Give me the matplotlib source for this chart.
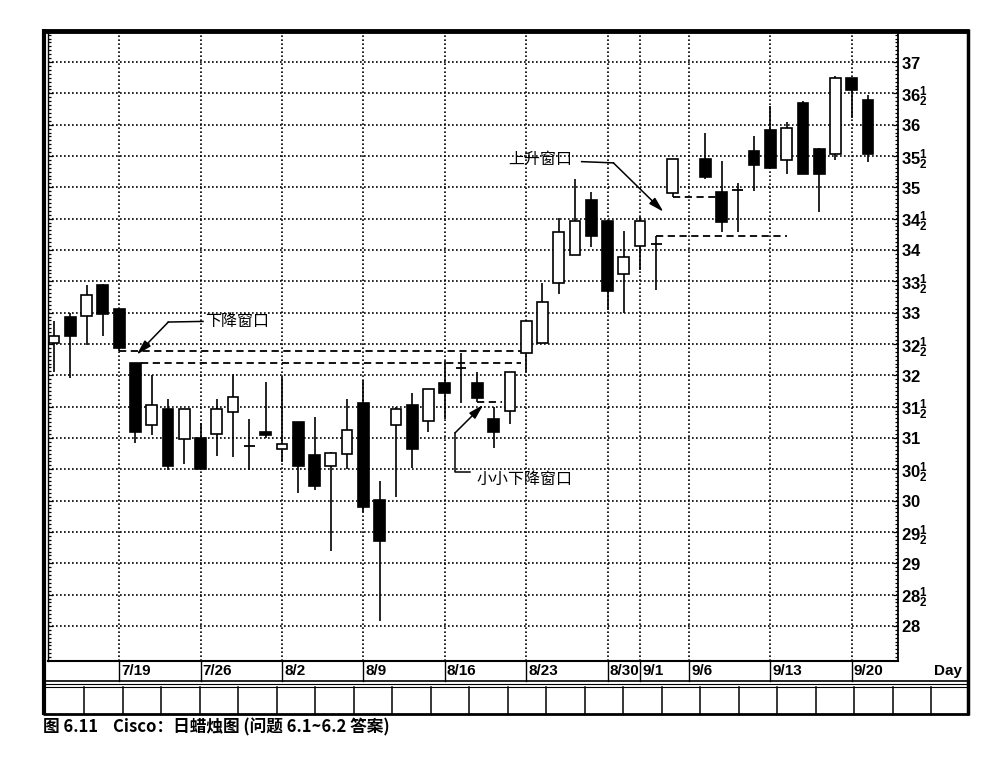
import numpy as np
import matplotlib
matplotlib.use("Agg")
import matplotlib.pyplot as plt
import matplotlib.transforms as mtransforms
from matplotlib import font_manager
from matplotlib.patches import Rectangle
from matplotlib.ticker import MultipleLocator

# Cisco daily candles, 7/13 .. 9/21
# slot = day position on the x axis; slot 39 (9/6, holiday) stays empty
slots = list(range(0, 39)) + list(range(40, 51))
opens = [32.52, 32.93, 32.95, 33.44, 33.06, 32.19, 31.21, 31.46, 30.98, 31.00,
         31.06, 31.42, 30.87, 31.09, 30.82, 31.25, 30.72, 30.56, 30.74, 31.56,
         30.01, 31.21, 31.53, 31.27, 31.87, 32.11, 31.87, 31.31, 31.43, 32.36,
         32.52, 33.48, 33.92, 34.80, 34.46, 33.61, 34.07, 34.10, 34.91, 35.45,
         34.92, 34.96, 35.58, 35.91, 35.44, 36.34, 35.61, 35.53, 36.74, 36.40]
highs = [32.86, 33.00, 33.44, 33.46, 33.06, 32.19, 32.00, 31.62, 31.46, 31.24,
         31.62, 32.02, 31.30, 31.90, 31.98, 31.26, 31.34, 30.78, 31.62, 31.93,
         30.32, 31.49, 31.71, 31.78, 32.23, 32.36, 32.06, 31.49, 32.06, 32.88,
         33.48, 34.51, 35.14, 34.93, 34.46, 34.30, 34.53, 34.23, 35.45, 35.86,
         35.42, 35.07, 35.82, 36.29, 36.05, 36.37, 35.63, 36.77, 36.74, 36.47]
lows = [32.06, 31.96, 32.48, 32.63, 32.38, 30.92, 31.05, 30.49, 30.59, 30.51,
        30.71, 30.70, 30.49, 31.00, 30.62, 30.12, 30.17, 29.19, 30.50, 29.82,
        28.08, 30.06, 30.52, 31.10, 31.30, 31.55, 31.58, 30.84, 31.23, 32.06,
        32.52, 33.30, 33.92, 34.04, 33.05, 32.99, 33.68, 33.36, 34.85, 35.13,
        34.28, 34.28, 34.94, 35.31, 35.22, 35.22, 34.60, 35.44, 36.10, 35.41]
closes = [32.62, 32.63, 33.28, 32.98, 32.44, 31.10, 31.53, 30.55, 31.46, 30.51,
          31.46, 31.65, 30.87, 31.04, 30.90, 30.55, 30.23, 30.76, 31.13, 29.89,
          29.36, 31.46, 30.82, 31.78, 31.72, 32.11, 31.63, 31.10, 32.06, 32.86,
          33.17, 34.29, 34.46, 34.22, 33.35, 33.88, 34.46, 34.10, 35.45, 35.16,
          34.44, 34.96, 35.35, 35.31, 35.95, 35.22, 35.22, 36.74, 36.56, 35.53]

date_slots = [4, 9, 14, 19, 24, 29, 34, 36, 39, 44, 49]
date_labels = ["7/19", "7/26", "8/2", "8/9", "8/16", "8/23", "8/30", "9/1", "9/6", "9/13", "9/20"]
price_levels = np.arange(28, 37.01, 0.5)

caption = "图 6.11    Cisco：日蜡烛图 (问题 6.1~6.2 答案)"

# fonts: condensed bold for the price scale if the narrow bold face exists
narrow_bold = [f for f in font_manager.fontManager.ttflist
               if f.name == "Liberation Sans Narrow" and f.weight in (700, "bold")]
axis_font = "Liberation Sans Narrow" if narrow_bold else "Liberation Sans"
plt.rcParams["font.family"] = ["Noto Sans CJK SC", "DejaVu Sans"]
plt.rcParams["mathtext.fontset"] = "custom"
plt.rcParams["mathtext.bf"] = axis_font + ":bold"
plt.rcParams["mathtext.rm"] = axis_font + ":bold"
plt.rcParams["mathtext.default"] = "bf"
cjk = ["Noto Sans CJK SC", "DejaVu Sans"]

W, H = 992, 764
fig = plt.figure(figsize=(W / 100, H / 100), dpi=100)
ax = fig.add_axes([48 / W, 1 - 661 / H, 850 / W, 630 / H])
ax.set_xlim(-0.37, 51.84)
ax.set_ylim(27.44, 37.495)

# grid + ticks
ax.set_xticks(date_slots)
ax.tick_params(axis="x", length=0, labelbottom=False)
ylabels = [f"${int(v)}$" if v == int(v) else rf"${int(v)}^1_2$" for v in price_levels]
ax.set_yticks(price_levels, labels=ylabels)
ax.yaxis.set_minor_locator(MultipleLocator(1 / 16))
ax.yaxis.set_ticks_position("both")
ax.tick_params(axis="y", which="both", direction="in", labelleft=False, labelright=True,
               width=0.9, pad=2, labelsize=12)
ax.tick_params(axis="y", which="major", length=3.5)
ax.tick_params(axis="y", which="minor", length=2.5)
ax.grid(True, color="k", lw=1.2, ls=(0, (1, 1.4)))
ax.set_axisbelow(True)
ax.spines["top"].set_visible(False)
ax.spines["left"].set_linewidth(1.0)
ax.spines["right"].set_linewidth(1.3)
ax.spines["bottom"].set_linewidth(1.5)

# candles
w = 0.66
for s, o, h, l, c in zip(slots, opens, highs, lows, closes):
    ax.vlines(s, l, h, color="k", lw=1.2, zorder=2)
    if abs(c - o) < 0.02:
        ax.hlines(o, s - w / 2, s + w / 2, color="k", lw=1.3, zorder=3)
    else:
        ax.add_patch(Rectangle((s - w / 2, min(o, c)), w, abs(c - o),
                               facecolor="white" if c > o else "black",
                               edgecolor="k", lw=1.2, zorder=3))

# window marker lines
dash = (0, (4, 2.5))
ax.hlines(lows[4], slots[4], 28.8, colors="k", lw=1.3, linestyles=dash, zorder=2)
ax.hlines(highs[5], slots[5] + w / 2, 28.7, colors="k", lw=1.3, linestyles=dash, zorder=2)
ax.hlines(lows[26], slots[26], 27.5, colors="k", lw=1.3, linestyles=dash, zorder=2)
ax.hlines(highs[37], slots[37], 45.0, colors="k", lw=1.3, linestyles=dash, zorder=2)
ax.hlines(lows[38], slots[38], 40.7, colors="k", lw=1.3, linestyles=dash, zorder=2)


def callout(text, text_xy, path, tip):
    ax.text(text_xy[0], text_xy[1], text, ha="left", va="center", fontsize=11.5, family=cjk)
    xs, ys = zip(*path)
    ax.plot(xs, ys, color="k", lw=1.1)
    ax.annotate("", xy=tip, xytext=path[-1],
                arrowprops=dict(arrowstyle="-|>,head_length=0.9,head_width=0.25", color="k",
                                lw=1.1, shrinkA=0, shrinkB=0, mutation_scale=10))


callout("下降窗口", (9.28, 32.86), [(9.15, 32.86), (7.02, 32.85)], (5.08, 32.33))
callout("小小下降窗口", (25.98, 30.33), [(25.55, 30.46), (24.63, 30.46), (24.63, 31.08)], (26.37, 31.53))
callout("上升窗口", (27.89, 35.45), [(32.41, 35.41), (34.36, 35.39)], (37.43, 34.61))

# date row under the plot
trans = mtransforms.blended_transform_factory(ax.transData, ax.transAxes)
for s, lab in zip(date_slots, date_labels):
    ax.plot([s, s], [0, -20 / 630], color="k", lw=1.0, transform=trans, clip_on=False)
    ax.annotate(lab, xy=(s, -10 / 630), xycoords=trans, xytext=(1.5, 0),
                textcoords="offset points", ha="left", va="center",
                fontsize=11, fontweight="bold", family="Liberation Sans")

# outer frame and empty cell strip
ov = fig.add_axes([0, 0, 1, 1], facecolor="none")
ov.set_xlim(0, W)
ov.set_ylim(H, 0)
ov.axis("off")
ov.plot([42, 969], [31, 31], color="k", lw=3.5, solid_capstyle="butt")
ov.plot([44, 44], [29, 715], color="k", lw=3.0, solid_capstyle="butt")
ov.plot([967.5, 967.5], [29, 715], color="k", lw=2.5, solid_capstyle="butt")
ov.plot([43, 969], [714, 714], color="k", lw=2.0, solid_capstyle="butt")
ov.plot([44, 968], [681, 681], color="k", lw=1.2)
ov.plot([44, 968], [684, 684], color="k", lw=0.8)
ov.plot([44, 968], [686.5, 686.5], color="k", lw=0.8)
for x in 45.7 + 38.5 * np.arange(1, 24):
    ov.plot([x, x], [686.5, 714], color="k", lw=1.1)
ov.text(962, 671, "Day", ha="right", va="center", fontsize=11, fontweight="bold",
        family="Liberation Sans")

fig.text(43 / W, 1 - 727.5 / H, caption, ha="left", va="center", fontsize=12,
         fontweight="bold", family=cjk)

fig.savefig("out.png", dpi=100)
